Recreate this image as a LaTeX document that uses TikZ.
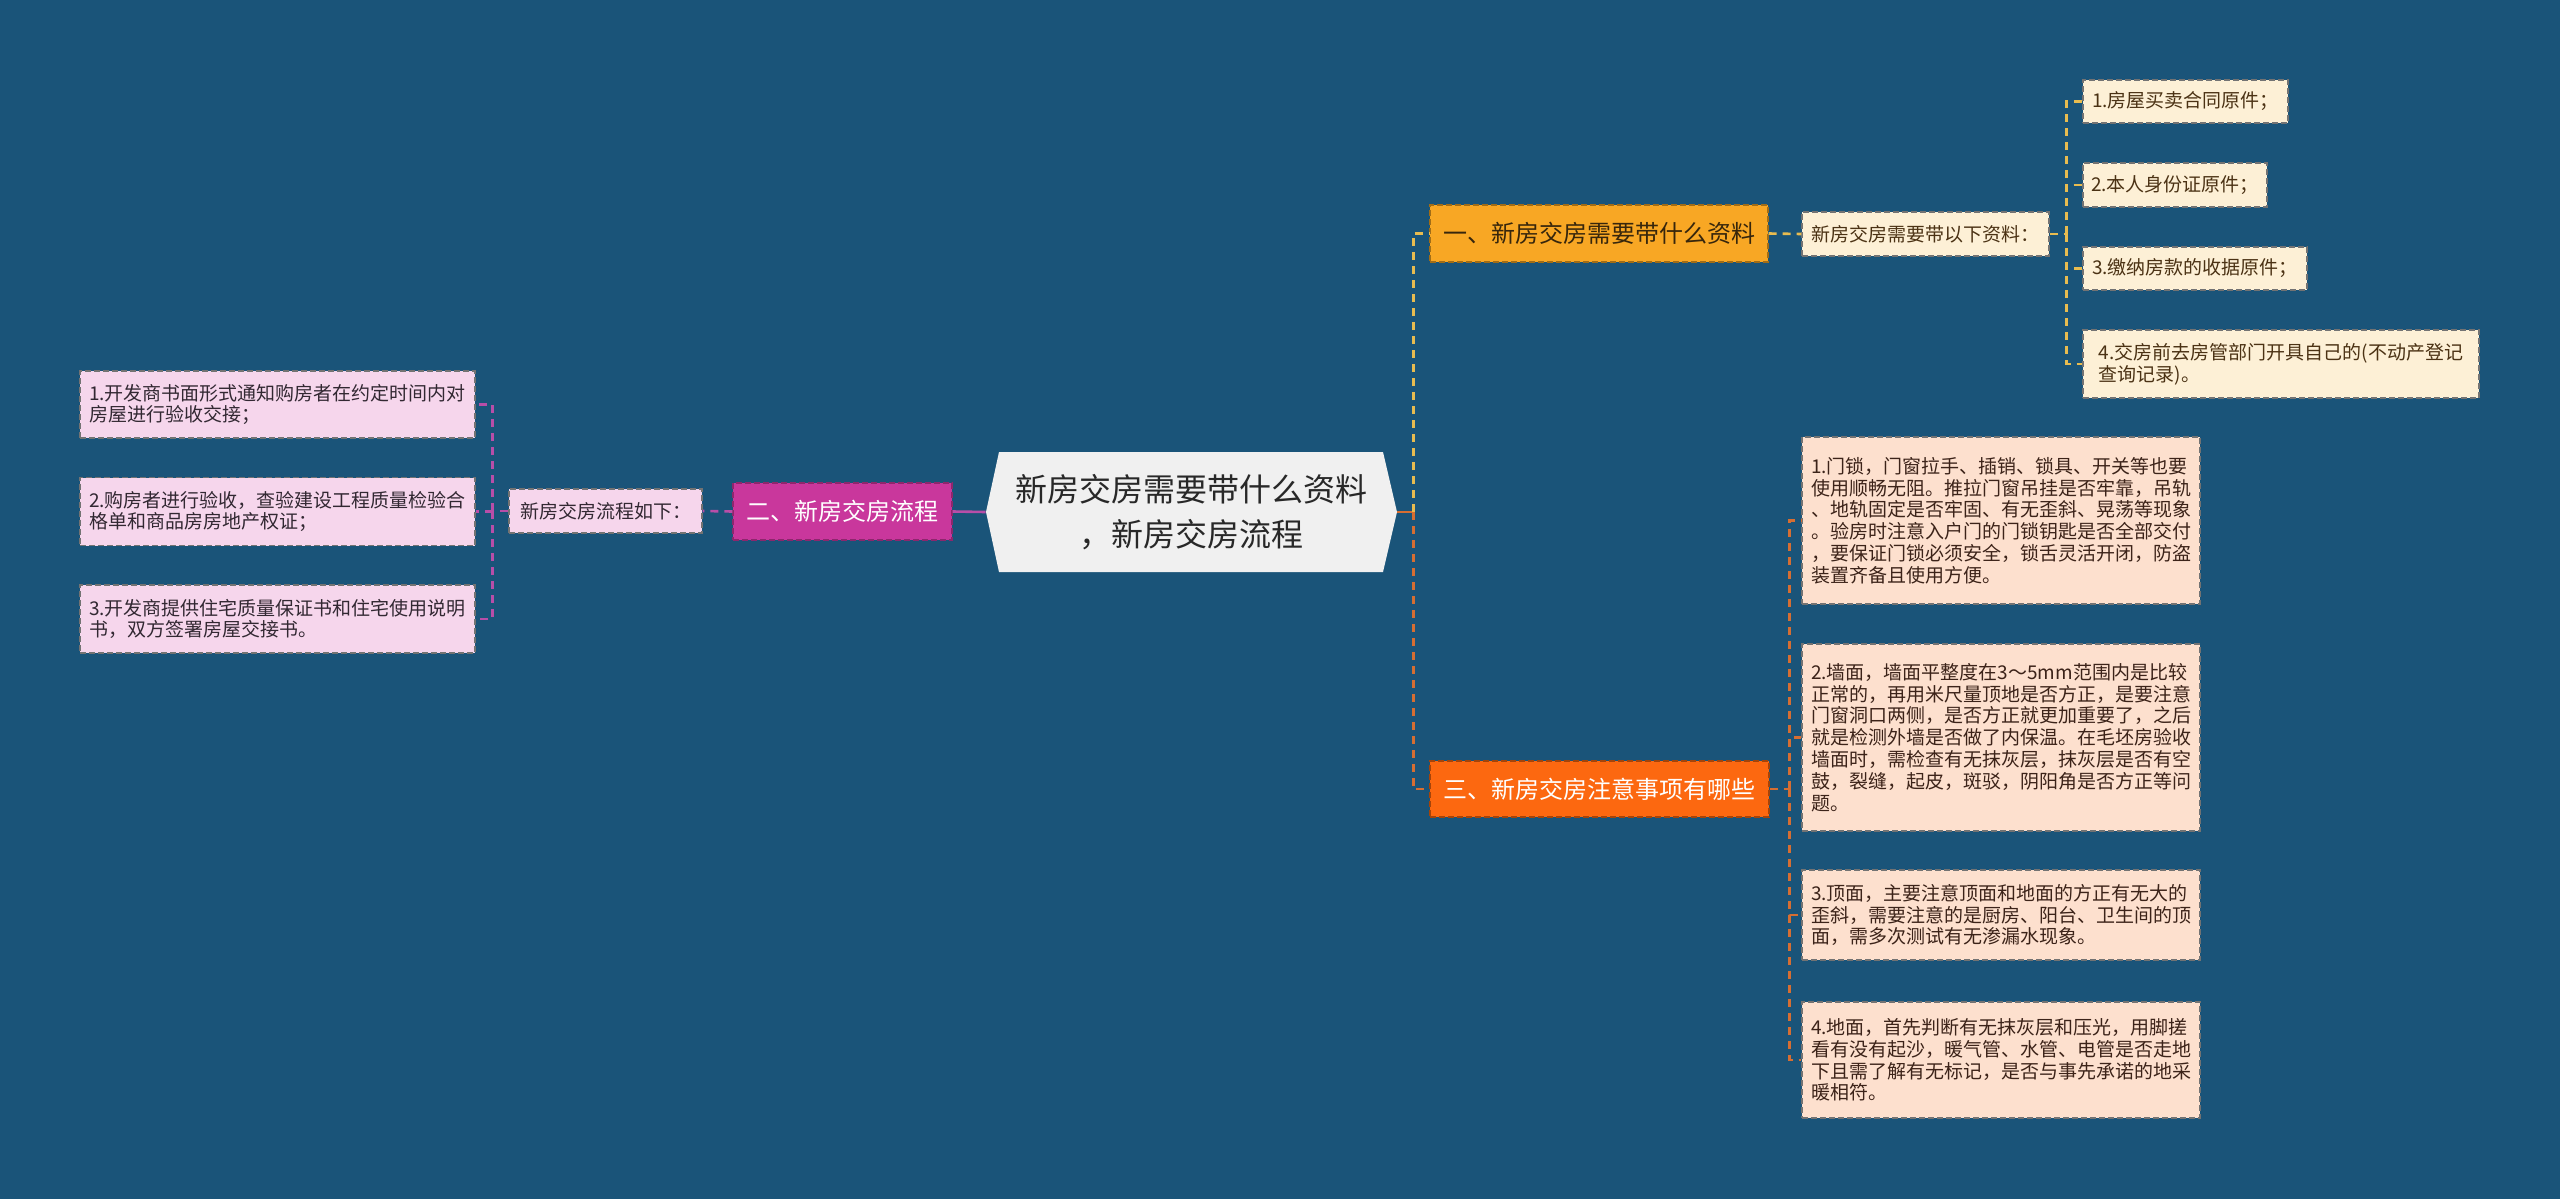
\documentclass[tikz,border=0pt]{standalone}
\usepackage{fontspec}
\setmainfont{Noto Sans CJK SC}
\definecolor{bg}{RGB}{26,84,121}
\definecolor{centrefill}{RGB}{240,240,240}
\definecolor{centretext}{RGB}{40,40,40}
\definecolor{magentafill}{RGB}{201,55,156}
\definecolor{pinkfill}{RGB}{246,214,236}
\definecolor{pinkline}{RGB}{184,78,168}
\definecolor{amberfill}{RGB}{248,167,36}
\definecolor{amberline}{RGB}{232,188,80}
\definecolor{creamfill}{RGB}{253,240,214}
\definecolor{creamtext}{RGB}{75,50,20}
\definecolor{ambertext}{RGB}{55,38,12}
\definecolor{flamefill}{RGB}{252,104,16}
\definecolor{flameline}{RGB}{214,110,50}
\definecolor{peachfill}{RGB}{253,224,206}
\definecolor{peachtext}{RGB}{60,35,25}
\definecolor{leaftext}{RGB}{50,40,50}
\begin{document}
\begin{tikzpicture}[x=0.5pt,y=-0.5pt,
  boxbase/.style={shape=rectangle, inner sep=0pt, align=left,
    draw=black!55, line width=0.6pt, dash pattern=on 3pt off 1.5pt},
  leaf/.style={boxbase, font=\fontsize{9.5pt}{10.9pt}\selectfont},
  topic/.style={boxbase, align=center, font=\fontsize{12pt}{14pt}\selectfont},
  centre/.style={shape=rectangle, text=centretext,
    inner sep=0pt, minimum width=205.5pt, minimum height=60pt, align=center,
    font=\fontsize{16pt}{22.5pt}\selectfont},
  link/.style={line width=1.3pt, dash pattern=on 4pt off 3pt},
  stem/.style={line width=1.3pt}
]
\path[fill=bg] (0,0) rectangle (2560,1199);

% central hexagon
\fill[centrefill] (999,452) -- (1383,452) -- (1397,512) -- (1383,572)
  -- (999,572) -- (986,512) -- cycle;
\node[centre] (c) at (1191.5,512) {新房交房需要带什么资料\\，新房交房流程};

% left branch
\node[topic, fill=magentafill, text=white, draw=magentafill!70!black,
  minimum width=109.5pt, minimum height=28.5pt] (t2) at (842.5,511.5) {二、新房交房流程};
\node[leaf, fill=pinkfill, text=leaftext, minimum width=96.5pt, minimum height=22pt]
  (t2a) at (605.5,511) {新房交房流程如下：};
\node[leaf, fill=pinkfill, text=leaftext, minimum width=197.5pt, minimum height=33.5pt]
  (l1) at (277.5,404.5) {1.开发商书面形式通知购房者在约定时间内对\\房屋进行验收交接；};
\node[leaf, fill=pinkfill, text=leaftext, minimum width=197.5pt, minimum height=34pt]
  (l2) at (277.5,511.5) {2.购房者进行验收，查验建设工程质量检验合\\格单和商品房房地产权证；};
\node[leaf, fill=pinkfill, text=leaftext, minimum width=197.5pt, minimum height=34pt]
  (l3) at (277.5,619) {3.开发商提供住宅质量保证书和住宅使用说明\\书，双方签署房屋交接书。};

\draw[stem, pinkline] (c.west) -- (t2.east);
\draw[link, pinkline] (t2.west) -- (t2a.east);
\draw[link, pinkline] (t2a.west) -- ++(-16,0) coordinate (lt);
\draw[link, pinkline] (lt) |- (l1.east);
\draw[link, pinkline] (lt) |- (l2.east);
\draw[link, pinkline] (lt) |- (l3.east);

% right branch 1
\node[topic, fill=amberfill, text=ambertext, draw=amberfill!65!black,
  minimum width=169pt, minimum height=28.5pt] (t1) at (1599,233.5) {一、新房交房需要带什么资料};
\node[leaf, fill=creamfill, text=creamtext, minimum width=123.5pt, minimum height=22pt]
  (t1a) at (1925.5,234) {新房交房需要带以下资料：};
\node[leaf, fill=creamfill, text=creamtext, minimum width=102.5pt, minimum height=21.5pt]
  (a1) at (2185.5,101.5) {1.房屋买卖合同原件；};
\node[leaf, fill=creamfill, text=creamtext, minimum width=92pt, minimum height=22pt]
  (a2) at (2175,185) {2.本人身份证原件；};
\node[leaf, fill=creamfill, text=creamtext, minimum width=112pt, minimum height=21.5pt]
  (a3) at (2195,268.5) {3.缴纳房款的收据原件；};
\node[leaf, fill=creamfill, text=creamtext, minimum width=198pt, minimum height=34pt]
  (a4) at (2281,364) {4.交房前去房管部门开具自己的(不动产登记\\查询记录)。};

% right branch 3
\node[topic, fill=flamefill, text=white, draw=flamefill!65!black,
  minimum width=169.5pt, minimum height=28pt] (t3) at (1599.5,789) {三、新房交房注意事项有哪些};
\node[leaf, fill=peachfill, text=peachtext, minimum width=199pt, minimum height=83.5pt]
  (b1) at (2001,520.5) {1.门锁，门窗拉手、插销、锁具、开关等也要\\使用顺畅无阻。推拉门窗吊挂是否牢靠，吊轨\\、地轨固定是否牢固、有无歪斜、晃荡等现象\\。验房时注意入户门的门锁钥匙是否全部交付\\，要保证门锁必须安全，锁舌灵活开闭，防盗\\装置齐备且使用方便。};
\node[leaf, fill=peachfill, text=peachtext, minimum width=199pt, minimum height=93.5pt]
  (b2) at (2001,737.5) {2.墙面，墙面平整度在3～5mm范围内是比较\\正常的，再用米尺量顶地是否方正，是要注意\\门窗洞口两侧，是否方正就更加重要了，之后\\就是检测外墙是否做了内保温。在毛坯房验收\\墙面时，需检查有无抹灰层，抹灰层是否有空\\鼓，裂缝，起皮，斑驳，阴阳角是否方正等问\\题。};
\node[leaf, fill=peachfill, text=peachtext, minimum width=199pt, minimum height=45pt]
  (b3) at (2001,915) {3.顶面，主要注意顶面和地面的方正有无大的\\歪斜，需要注意的是厨房、阳台、卫生间的顶\\面，需多次测试有无渗漏水现象。};
\node[leaf, fill=peachfill, text=peachtext, minimum width=199pt, minimum height=58pt]
  (b4) at (2001,1060) {4.地面，首先判断有无抹灰层和压光，用脚搓\\看有没有起沙，暖气管、水管、电管是否走地\\下且需了解有无标记，是否与事先承诺的地采\\暖相符。};

% right connectors
\draw[stem, flameline] (c.east) -- ++(16,0) coordinate (rt);
\draw[link, amberline] (rt) |- (t1.west);
\draw[link, flameline] (rt) |- (t3.west);
\draw[link, amberline] (t1.east) -- (t1a.west);
\draw[link, amberline] (t1a.east) -- ++(17,0) coordinate (at);
\draw[link, amberline] (at) |- (a1.west);
\draw[link, amberline] (at) |- (a2.west);
\draw[link, amberline] (at) |- (a3.west);
\draw[link, amberline] (at) |- (a4.west);
\draw[link, flameline] (t3.east) -- ++(20,0) coordinate (bt);
\draw[link, flameline] (bt) |- (b1.west);
\draw[link, flameline] (bt) |- (b2.west);
\draw[link, flameline] (bt) |- (b3.west);
\draw[link, flameline] (bt) |- (b4.west);
\end{tikzpicture}
\end{document}
